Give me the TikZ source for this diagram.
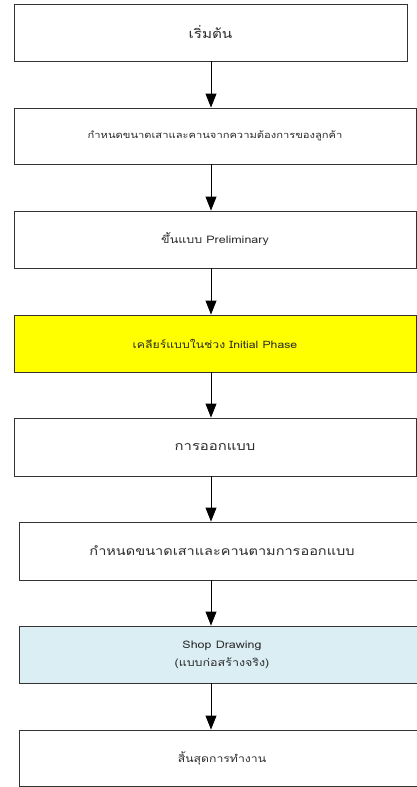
\documentclass[tikz,border=0pt]{standalone}
\usepackage{fontspec}
\newfontfamily\thaifont[Script=Thai,FakeStretch=1.2]{Loma}
\usetikzlibrary{arrows.meta}
\definecolor{lineg}{HTML}{333333}
\definecolor{txtg}{HTML}{2A2A2A}
\definecolor{ylw}{HTML}{FFFF00}
\definecolor{lblue}{HTML}{DAEEF3}
\tikzset{
  box/.style={draw=lineg, line width=0.9pt, rectangle, inner sep=0pt, align=center, text=txtg, font=\thaifont},
  arr/.style={draw=black, line width=0.9pt, -{Triangle[width=11pt,length=14pt]}}
}
\begin{document}
\begin{tikzpicture}[x=1pt,y=-1pt]
\useasboundingbox (0,0) rectangle (417,787);
\clip (0,0) rectangle (417,787);
\node[box, minimum width=393pt, minimum height=57pt, font=\thaifont\fontsize{12.7}{15}\selectfont] (b1) at (210.5,32.5) {เริ่มต้น};
\node[box, minimum width=402pt, minimum height=56pt, font=\thaifont\fontsize{9.3}{11}\selectfont] (b2) at (215,136) {กำหนดขนาดเสาและคานจากความต้องการของลูกค้า};
\node[box, minimum width=402pt, minimum height=57pt, font=\thaifont\fontsize{10.4}{12}\selectfont] (b3) at (215,239.5) {ขึ้นแบบ Preliminary};
\node[box, fill=ylw, minimum width=402pt, minimum height=57pt, font=\thaifont\fontsize{10.2}{12}\selectfont] (b4) at (215,343.5) {เคลียร์แบบในช่วง Initial Phase};
\node[box, minimum width=402pt, minimum height=58pt, font=\thaifont\fontsize{12.4}{14}\selectfont] (b5) at (215,447) {การออกแบบ};
\node[box, minimum width=406pt, minimum height=58pt, font=\thaifont\fontsize{12.1}{14}\selectfont] (b6) at (222,551) {กำหนดขนาดเสาและคานตามการออกแบบ};
\node[box, fill=lblue, minimum width=406pt, minimum height=57pt, font=\thaifont\fontsize{10.4}{18}\selectfont] (b7) at (222,654.5) {Shop Drawing\\(แบบก่อสร้างจริง)};
\node[box, minimum width=406pt, minimum height=56pt, font=\thaifont\fontsize{10.2}{12}\selectfont] (b8) at (222,758) {สิ้นสุดการทำงาน};
\coordinate (ax) at (211,0);
\draw[arr] (b1.south -| ax) -- (b2.north -| ax);
\draw[arr] (b2.south -| ax) -- (b3.north -| ax);
\draw[arr] (b3.south -| ax) -- (b4.north -| ax);
\draw[arr] (b4.south -| ax) -- (b5.north -| ax);
\draw[arr] (b5.south -| ax) -- (b6.north -| ax);
\draw[arr] (b6.south -| ax) -- (b7.north -| ax);
\draw[arr] (b7.south -| ax) -- (b8.north -| ax);
\end{tikzpicture}
\end{document}
